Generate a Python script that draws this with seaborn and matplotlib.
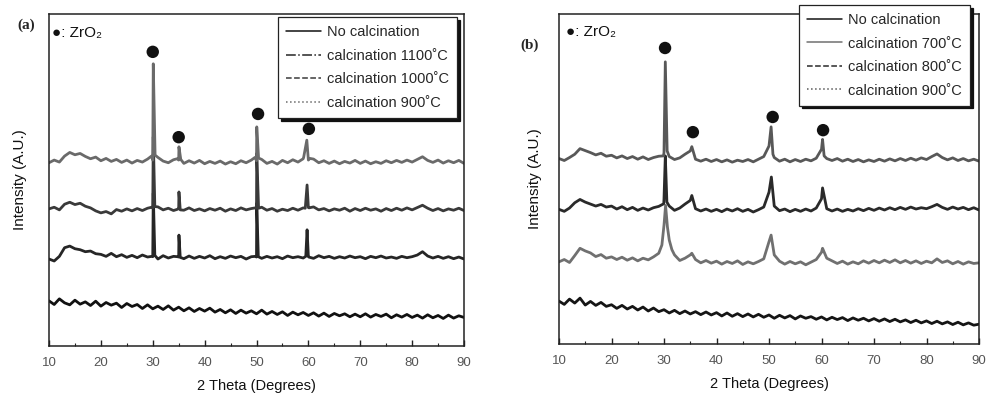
import matplotlib
matplotlib.use("Agg")
import matplotlib.pyplot as plt
import seaborn as sns
import pandas as pd
from matplotlib.lines import Line2D
from matplotlib.ticker import MultipleLocator

# ---------------- data ----------------
two_theta = list(range(10, 91))

# panel (a)
a_labels = ["No calcination", "calcination 1100\u02daC", "calcination 1000\u02daC", "calcination 900\u02daC"]
a_none = [13.6, 12.5, 14.2, 13.0, 12.4, 13.8, 12.6, 13.3, 12.2, 13.5,
          12.0, 13.1, 12.3, 12.9, 11.6, 12.8, 11.9, 12.5, 11.3, 12.4,
          11.2, 12.0, 11.0, 12.1, 10.8, 11.7, 10.6, 11.5, 10.4, 11.3,
          10.5, 11.4, 10.2, 11.0, 10.0, 10.9, 9.8, 10.8, 9.9, 10.6,
          9.7, 10.8, 9.6, 10.4, 9.5, 10.3, 9.2, 10.2, 9.4, 10.1,
          9.2, 10.0, 9.0, 9.9, 8.9, 9.8, 9.1, 9.7, 8.8, 9.6,
          8.8, 9.7, 8.7, 9.5, 8.9, 9.6, 8.5, 9.4, 8.7, 9.5,
          8.6, 9.3, 8.4, 9.4, 8.5, 9.2, 8.3, 9.3, 8.4, 9.1,
          8.6]
a_1100 = [26.2, 25.6, 27.0, 29.6, 30.1, 29.3, 29.0, 28.4, 28.6, 27.8,
          27.6, 27.0, 27.9, 26.9, 27.5, 26.7, 27.3, 26.6, 27.4, 26.8,
          26.9, 26.2, 27.2, 26.5, 27.0, 26.8, 26.3, 27.1, 26.4, 27.0,
          26.5, 27.2, 26.3, 26.9, 26.4, 27.1, 26.6, 27.0, 26.2, 26.9,
          26.8, 26.4, 27.0, 26.5, 26.9, 26.3, 27.1, 26.6, 26.9, 26.5,
          26.9, 26.4, 27.2, 26.6, 27.0, 26.4, 26.9, 26.5, 27.1, 26.6,
          26.9, 26.3, 27.0, 26.6, 27.1, 26.5, 26.8, 26.4, 27.0, 26.6,
          26.9, 27.4, 28.4, 27.1, 26.5, 27.0, 26.4, 26.9, 26.3, 26.8,
          26.2]
a_1000 = [41.3, 41.8, 41.0, 42.7, 43.3, 42.6, 43.0, 42.1, 41.6, 40.7,
          40.1, 40.5, 39.8, 41.1, 40.6, 41.3, 40.7, 41.4, 40.8, 41.5,
          41.6, 41.9, 41.0, 41.5, 40.8, 41.4, 40.9, 41.6, 40.8, 41.3,
          40.7, 41.4, 40.9, 41.5, 40.6, 41.3, 40.8, 41.6, 41.0, 41.4,
          41.5, 41.8, 40.9, 41.4, 40.6, 41.2, 40.8, 41.5, 40.9, 41.6,
          41.7, 41.9, 41.0, 41.4, 40.7, 41.3, 40.9, 41.5, 40.6, 41.4,
          40.8, 41.5, 40.9, 41.3, 40.6, 41.4, 40.8, 41.5, 40.9, 41.6,
          41.0, 41.7, 42.4, 41.5, 40.8, 41.4, 40.7, 41.3, 40.9, 41.5,
          40.8]
a_900 = [55.2, 56.0, 55.4, 57.2, 58.3, 57.6, 58.0, 57.1, 56.4, 56.9,
         55.8, 56.5, 55.6, 56.2, 55.3, 56.0, 55.1, 55.9, 55.4, 56.3,
         56.0, 56.8, 55.7, 55.2, 56.1, 56.0, 55.0, 55.8, 55.1, 55.9,
         54.9, 55.6, 55.0, 55.7, 54.8, 55.5, 54.9, 55.8, 55.2, 56.0,
         55.8, 56.2, 55.0, 55.6, 54.8, 55.9, 55.2, 56.1, 55.4, 56.4,
         56.0, 56.3, 55.2, 55.8, 55.0, 55.7, 54.9, 55.6, 55.1, 55.9,
         55.0, 55.7, 54.9, 55.5, 55.0, 55.8, 55.2, 55.9, 55.3, 56.0,
         55.4, 56.2, 57.0, 55.9, 55.3, 56.0, 55.1, 55.8, 55.2, 55.9,
         55.0]
# sharp ZrO2 reflections (a)
a_1100_pk_x = [29.8, 30.1, 30.4, 34.8, 35.05, 35.3, 49.8, 50.05, 50.35, 59.5, 59.75, 60.05]
a_1100_pk_y = [27.0, 46.0, 27.3, 26.9, 33.4, 26.7, 27.0, 43.0, 26.9, 27.0, 35.0, 26.8]
a_1000_pk_x = [29.8, 30.1, 30.4, 34.8, 35.05, 35.3, 49.75, 50.05, 50.4, 59.4, 59.75, 60.1]
a_1000_pk_y = [41.8, 63.0, 42.0, 41.2, 46.4, 41.0, 41.6, 58.0, 41.5, 41.5, 48.5, 41.6]
a_900_pk_x = [29.75, 30.1, 30.45, 34.7, 35.05, 35.4, 49.7, 50.05, 50.4, 59.1, 59.7, 60.3]
a_900_pk_y = [57.2, 85.0, 57.5, 56.4, 60.0, 56.2, 56.8, 66.0, 56.6, 56.9, 62.0, 56.5]
a_dot_x = [30.0, 35.0, 50.3, 60.1]
a_dot_y = [88.6, 62.9, 69.9, 65.4]

# panel (b)
b_labels = ["No calcination", "calcination 700\u02daC", "calcination 800\u02daC", "calcination 900\u02daC"]
b_none = [13.0, 12.0, 13.6, 12.4, 13.9, 11.8, 12.9, 11.7, 12.6, 11.4,
          11.9, 10.8, 11.7, 10.6, 11.4, 10.3, 11.2, 10.0, 10.9, 9.8,
          10.4, 9.4, 10.2, 9.2, 10.0, 9.1, 9.8, 8.9, 9.7, 8.8,
          9.5, 8.5, 9.4, 8.4, 9.2, 8.3, 9.1, 8.2, 9.0, 8.1,
          8.8, 7.8, 8.7, 7.9, 8.6, 7.6, 8.5, 7.8, 8.3, 7.5,
          8.2, 7.3, 8.1, 7.4, 8.0, 7.1, 7.9, 7.2, 7.8, 7.0,
          7.7, 6.9, 7.6, 6.8, 7.5, 6.7, 7.3, 6.5, 7.2, 6.4,
          7.0, 6.2, 6.9, 6.1, 6.7, 5.9, 6.6, 5.8, 6.4, 5.7,
          6.0]
b_700 = [24.9, 25.6, 24.7, 26.8, 29.0, 28.2, 27.6, 26.5, 27.1, 26.0,
         26.4, 25.6, 26.3, 25.4, 26.1, 25.2, 26.0, 25.5, 26.4, 27.5,
         36.0, 31.5, 27.0, 25.3, 26.0, 27.0, 25.6, 24.6, 25.3, 24.5,
         25.1, 24.2, 25.0, 24.4, 25.2, 24.1, 24.9, 24.3, 25.0, 25.8,
         31.0, 27.0, 25.1, 24.2, 25.0, 24.3, 24.9, 24.0, 24.8, 25.6,
         27.8, 26.0, 25.2, 24.4, 25.1, 24.2, 24.9, 24.3, 25.2, 24.5,
         25.3, 24.6, 25.4, 24.7, 25.5, 24.6, 25.3, 24.5, 25.2, 24.4,
         25.1, 24.6, 25.8, 24.7, 25.2, 24.3, 25.0, 24.2, 24.9, 24.4,
         24.6]
b_800 = [40.8, 40.2, 41.2, 42.8, 43.8, 43.0, 42.4, 41.8, 42.3, 41.5,
         41.8, 40.9, 41.6, 40.7, 41.4, 40.5, 41.2, 40.6, 41.3, 41.7,
         44.0, 41.8, 40.5, 41.2, 42.4, 43.5, 41.0, 40.3, 40.9, 40.2,
         40.8, 40.1, 40.9, 40.3, 41.0, 40.2, 40.8, 40.0, 40.7, 41.5,
         46.0, 41.8, 40.4, 40.9, 40.1, 40.8, 40.2, 40.9, 40.3, 41.2,
         44.0, 41.0, 40.3, 40.9, 40.2, 40.8, 40.3, 41.0, 40.4, 41.1,
         40.5, 41.2, 40.6, 41.3, 40.7, 41.4, 40.8, 41.5, 40.9, 41.3,
         41.0, 41.6, 42.3, 41.4, 40.8, 41.5, 40.9, 41.4, 40.7, 41.3,
         40.6]
b_900 = [56.2, 55.6, 56.5, 57.5, 59.2, 58.6, 58.0, 57.3, 57.8, 56.9,
         57.2, 56.4, 57.0, 56.2, 56.8, 56.0, 56.7, 55.9, 56.5, 56.9,
         58.0, 56.8, 55.9, 56.4, 57.5, 58.5, 56.0, 55.4, 56.0, 55.3,
         55.9, 55.2, 55.8, 55.1, 55.7, 55.3, 55.9, 55.2, 56.0, 56.8,
         60.0, 56.5, 55.4, 56.0, 55.2, 55.9, 55.3, 56.0, 55.5, 56.3,
         59.0, 56.2, 55.6, 56.2, 55.4, 56.0, 55.3, 55.9, 55.2, 55.8,
         55.3, 56.0, 55.4, 56.1, 55.5, 56.2, 55.6, 56.3, 55.7, 56.4,
         55.9, 56.8, 57.6, 56.5, 55.8, 56.4, 55.6, 56.2, 55.5, 56.0,
         55.4]
# broader ZrO2 reflections (b)
b_700_pk_x = [29.6, 30.3, 30.65, 31.5, 35.3, 50.4, 60.2]
b_700_pk_y = [30.0, 42.0, 35.5, 28.6, 27.5, 33.0, 29.0]
b_800_pk_x = [29.95, 30.25, 30.55, 35.3, 50.45, 60.2]
b_800_pk_y = [42.5, 57.0, 43.0, 45.0, 50.6, 47.3]
b_900_pk_x = [29.9, 30.25, 30.6, 35.3, 50.4, 50.75, 60.2, 60.5]
b_900_pk_y = [57.0, 85.5, 58.5, 59.8, 65.8, 57.5, 62.0, 57.0]
b_dot_x = [30.2, 35.5, 50.7, 60.3]
b_dot_y = [89.7, 64.2, 68.8, 64.8]

# ---------------- style ----------------
sns.set_style("ticks")
plt.rcParams["font.family"] = ["Liberation Sans", "DejaVu Sans"]

fig = plt.figure(figsize=(9.89, 3.94), dpi=100)
axa = fig.add_axes([49 / 989, 48 / 394, 415 / 989, 332 / 394])
axb = fig.add_axes([559 / 989, 50 / 394, 420 / 989, 330 / 394])


def make_df(base, pk_x=(), pk_y=()):
    df = pd.DataFrame({"x": list(two_theta) + list(pk_x), "y": list(base) + list(pk_y)})
    return df.sort_values("x", kind="mergesort").reset_index(drop=True)


def draw(ax, curves, colors, styles, labels, dots_x, dots_y, leg_anchor, zr_x, ylab_pad):
    for (base, px, py), c in zip(curves, colors):
        sns.lineplot(data=make_df(base, px, py), x="x", y="y", ax=ax, color=c,
                     lw=2.0, sort=True, estimator=None, legend=False)
    sns.scatterplot(x=dots_x, y=dots_y, ax=ax, color="#111111", s=80,
                    edgecolor="none", legend=False, zorder=5)
    ax.set_xlim(10, 90)
    ax.set_ylim(0, 100)
    ax.set_yticks([])
    ax.set_xticks(range(10, 91, 10))
    ax.xaxis.set_minor_locator(MultipleLocator(5))
    ax.tick_params(axis="x", which="major", direction="in", length=4, width=1,
                   labelsize=9.5, labelcolor="#555555", pad=8, color="#222222")
    ax.tick_params(axis="x", which="minor", direction="in", length=2.5, width=0.8,
                   color="#222222")
    for s in ax.spines.values():
        s.set_color("#222222")
        s.set_linewidth(1.1)
    ax.set_xlabel("2 Theta (Degrees)", fontsize=10.5, color="#111111", labelpad=7)
    ax.set_ylabel("Intensity (A.U.)", fontsize=11, color="#111111", labelpad=ylab_pad)
    ax.text(zr_x, 94.4, "\u25cf: ZrO\u2082", fontsize=11, va="center", ha="left",
            color="#111111")
    handles = [Line2D([], [], color=c, ls=st, lw=1.1) for c, st in zip(colors, styles)]
    leg = ax.legend(handles, labels, loc="upper right", bbox_to_anchor=leg_anchor,
                    borderaxespad=0, fontsize=10.5, frameon=True, fancybox=False,
                    framealpha=1, edgecolor="#222222", handlelength=2.4,
                    handletextpad=0.4, labelspacing=0.65, borderpad=0.55,
                    shadow={"color": "#111111", "alpha": 1})
    leg.get_frame().set_linewidth(0.9)


draw(axa,
     [(a_none, [], []), (a_1100, a_1100_pk_x, a_1100_pk_y),
      (a_1000, a_1000_pk_x, a_1000_pk_y), (a_900, a_900_pk_x, a_900_pk_y)],
     ["#111111", "#262626", "#3a3a3a", "#6a6a6a"],
     ["-", "-.", "--", ":"], a_labels, a_dot_x, a_dot_y,
     (0.983, 0.99), 10.6, 16)
draw(axb,
     [(b_none, [], []), (b_700, b_700_pk_x, b_700_pk_y),
      (b_800, b_800_pk_x, b_800_pk_y), (b_900, b_900_pk_x, b_900_pk_y)],
     ["#151515", "#707070", "#2a2a2a", "#585858"],
     ["-", "-", "--", ":"], b_labels, b_dot_x, b_dot_y,
     (0.978, 1.027), 11.3, 12)

fig.text(26 / 989, 1 - 25 / 394, "(a)", fontsize=11, fontweight="bold",
         family=["Liberation Serif", "DejaVu Serif"], ha="center", va="center")
fig.text(530 / 989, 1 - 45 / 394, "(b)", fontsize=11, fontweight="bold",
         family=["Liberation Serif", "DejaVu Serif"], ha="center", va="center")

fig.savefig("out.png", dpi=100)
